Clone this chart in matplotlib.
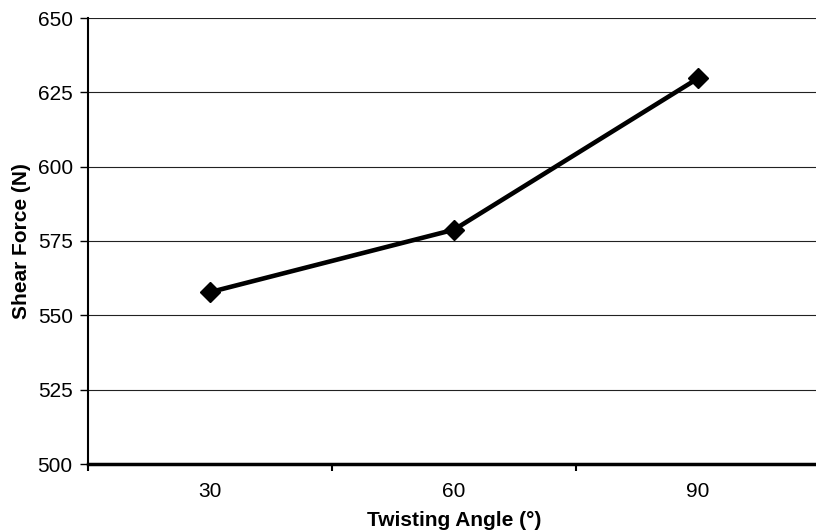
import matplotlib
matplotlib.use("Agg")
import matplotlib.pyplot as plt
import numpy as np

plt.rcParams['font.family'] = ['Liberation Sans', 'DejaVu Sans']

angles = ['30', '60', '90']
shear_force = [557.8, 578.8, 629.7]
y_ticks = [500, 525, 550, 575, 600, 625, 650]

fig = plt.figure(figsize=(8.16, 5.31), dpi=100)
ax = fig.add_axes([88 / 816, 1 - 464 / 531, 732 / 816, 446 / 531])

x = np.arange(len(angles))
ax.plot(x, shear_force, color='black', lw=3.3, marker='D', ms=10, zorder=3)

ax.set_xlim(-0.5, len(angles) - 0.5)
ax.set_ylim(500, 650)
ax.set_yticks(y_ticks)
ax.yaxis.grid(True, color='#222222', lw=0.8)
ax.set_axisbelow(True)

ax.set_xticks(x)
ax.set_xticklabels(angles)
ax.set_xticks(np.arange(len(angles) + 1) - 0.5, minor=True)
ax.tick_params(axis='x', which='major', length=0, pad=13, labelsize=15)
ax.tick_params(axis='x', which='minor', length=5, width=1.5, direction='out')
ax.tick_params(axis='y', length=6, width=1, pad=5, labelsize=15)

for s in ['top', 'right']:
    ax.spines[s].set_visible(False)
ax.spines['left'].set_linewidth(1.5)
ax.spines['bottom'].set_linewidth(2.5)

ax.set_xlabel('Twisting Angle (°)', fontsize=15, fontweight='bold', labelpad=7)
ax.set_ylabel('Shear Force (N)', fontsize=15, fontweight='bold', labelpad=5)

fig.savefig('out.png', dpi=100)
